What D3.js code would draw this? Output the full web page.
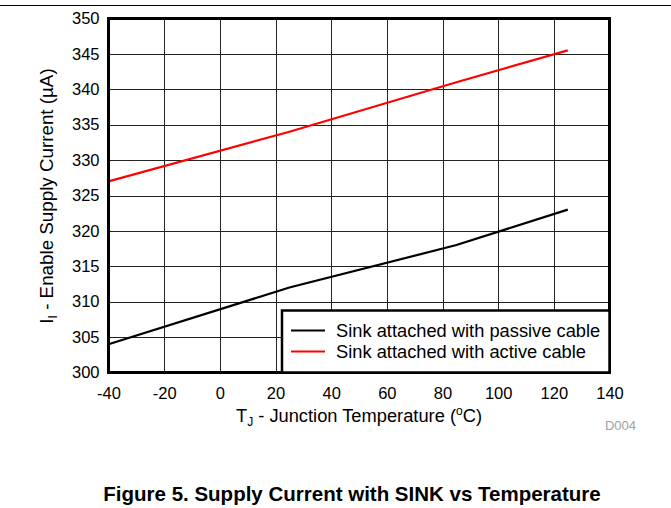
<!DOCTYPE html>
<html><head><meta charset="utf-8">
<script src="https://cdn.jsdelivr.net/npm/d3@7"></script>
<style>body{margin:0;background:#fff}svg{display:block;font-family:Arial,"Liberation Sans",sans-serif}</style>
</head><body>
<script>
const temps = [-40, 25, 85, 125];
const passive = [304, 312, 318, 323];
const active = [327, 334, 341, 345.5];
const seriesNames = ["Sink attached with passive cable", "Sink attached with active cable"];
const seriesColors = ["#000000", "#ff0000"];
const xTicks = [-40, -20, 0, 20, 40, 60, 80, 100, 120, 140];
const yTicks = [300, 305, 310, 315, 320, 325, 330, 335, 340, 345, 350];

const W = 671, H = 508;
const m = {l: 108.5, r: 609.5, t: 18.5, b: 372.5};
const svg = d3.select("body").append("svg").attr("width", W).attr("height", H);

svg.append("line").attr("x1", 0).attr("x2", W).attr("y1", 5.5).attr("y2", 5.5).attr("stroke", "#000").attr("stroke-width", 1.2);

const x = d3.scaleLinear().domain([-40, 140]).range([m.l, m.r]);
const y = d3.scaleLinear().domain([300, 350]).range([m.b, m.t]);

// grid
svg.append("g").selectAll("line").data(xTicks).join("line")
  .attr("x1", d => Math.round(x(d)) + 0.5).attr("x2", d => Math.round(x(d)) + 0.5)
  .attr("y1", m.t).attr("y2", m.b).attr("stroke", "#222").attr("stroke-width", 1);
svg.append("g").selectAll("line").data(yTicks).join("line")
  .attr("y1", d => Math.round(y(d)) + 0.5).attr("y2", d => Math.round(y(d)) + 0.5)
  .attr("x1", m.l).attr("x2", m.r).attr("stroke", "#222").attr("stroke-width", 1);

const fmt = d => String(d);
// axes labels
const xAxis = d3.axisBottom(x).tickValues(xTicks).tickFormat(fmt).tickSize(0).tickPadding(15);
const gx = svg.append("g").attr("transform", `translate(0,${m.b})`).call(xAxis);
gx.select(".domain").remove();
gx.selectAll("text").attr("font-size", 16.5).attr("fill", "#000").attr("font-family", "Arial, 'Liberation Sans', sans-serif");

const yAxis = d3.axisLeft(y).tickValues(yTicks).tickFormat(fmt).tickSize(0).tickPadding(9);
const gy = svg.append("g").attr("transform", `translate(${m.l},0)`).call(yAxis);
gy.select(".domain").remove();
gy.selectAll("text").attr("font-size", 16.5).attr("fill", "#000").attr("font-family", "Arial, 'Liberation Sans', sans-serif");

// lines
const line = d3.line().x((d, i) => x(temps[i])).y(d => y(d));
[passive, active].forEach((s, k) => {
  svg.append("path").datum(s).attr("d", line).attr("fill", "none")
    .attr("stroke", seriesColors[k]).attr("stroke-width", 2.2);
});

// frame
svg.append("rect").attr("x", m.l).attr("y", m.t).attr("width", m.r - m.l).attr("height", m.b - m.t)
  .attr("fill", "none").attr("stroke", "#000").attr("stroke-width", 3);

// legend
const lg = svg.append("g");
lg.append("rect").attr("x", 282).attr("y", 310.5).attr("width", m.r - 282).attr("height", m.b - 310.5)
  .attr("fill", "#fff").attr("stroke", "#000").attr("stroke-width", 2.5);
seriesNames.forEach((n, i) => {
  const yy = 330.5 + i * 21;
  lg.append("line").attr("x1", 291).attr("x2", 325).attr("y1", yy).attr("y2", yy)
    .attr("stroke", seriesColors[i]).attr("stroke-width", 2.2);
  lg.append("text").attr("x", 336).attr("y", yy).attr("dy", "0.35em").attr("font-size", 18.3).text(n);
});

// x title
const xt = svg.append("text").attr("x", 359).attr("y", 422).attr("text-anchor", "middle").attr("font-size", 18.3);
xt.append("tspan").text("T");
xt.append("tspan").attr("font-size", 12).attr("dy", 4).text("J");
xt.append("tspan").attr("dy", -4).text(" - Junction Temperature (");
xt.append("tspan").attr("font-size", 12).attr("dy", -7).text("o");
xt.append("tspan").attr("dy", 7).text("C)");

// y title
const yt = svg.append("text").attr("transform", "translate(53,196) rotate(-90)").attr("text-anchor", "middle").attr("font-size", 18.8);
yt.append("tspan").text("I");
yt.append("tspan").attr("font-size", 12).attr("dy", 4).text("I");
yt.append("tspan").attr("dy", -4).text(" - Enable Supply Current (\u00b5A)");

svg.append("text").attr("x", 636).attr("y", 430).attr("text-anchor", "end").attr("font-size", 13).attr("fill", "#a0a0a0").text("D004");

svg.append("text").attr("x", 352).attr("y", 501).attr("text-anchor", "middle").attr("font-size", 20.5).attr("font-weight", "bold").text("Figure 5. Supply Current with SINK vs Temperature");
</script>
</body></html>
